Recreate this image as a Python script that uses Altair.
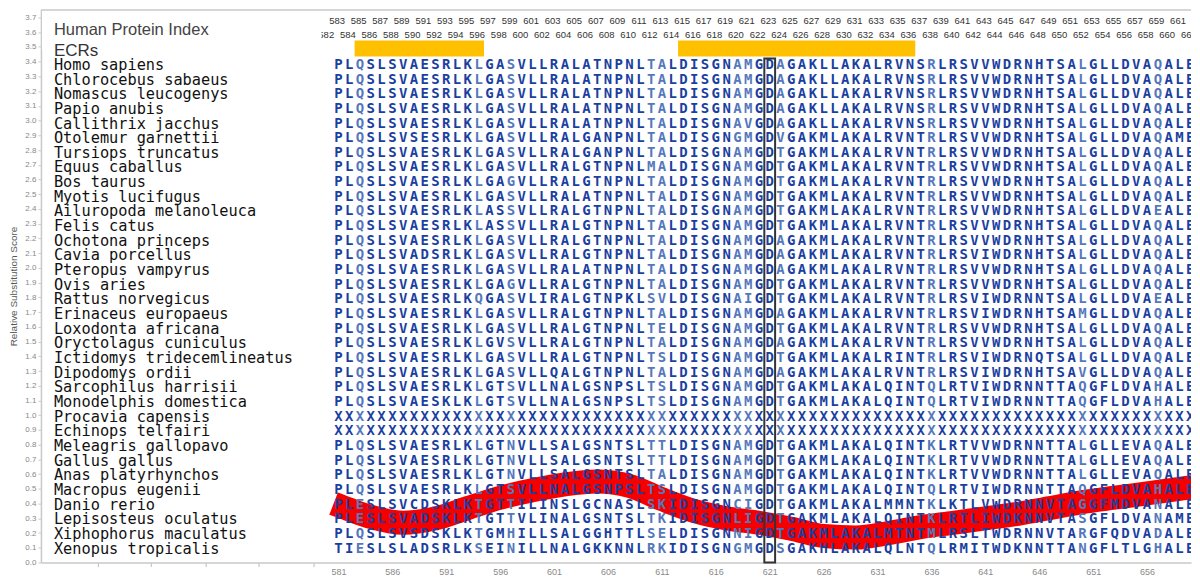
import altair as alt
import pandas as pd

# ---------------- data ----------------
species = [
    "Homo sapiens", "Chlorocebus sabaeus", "Nomascus leucogenys", "Papio anubis",
    "Callithrix jacchus", "Otolemur garnettii", "Tursiops truncatus", "Equus caballus",
    "Bos taurus", "Myotis lucifugus", "Ailuropoda melanoleuca", "Felis catus",
    "Ochotona princeps", "Cavia porcellus", "Pteropus vampyrus", "Ovis aries",
    "Rattus norvegicus", "Erinaceus europaeus", "Loxodonta africana", "Oryctolagus cuniculus",
    "Ictidomys tridecemlineatus", "Dipodomys ordii", "Sarcophilus harrisii", "Monodelphis domestica",
    "Procavia capensis", "Echinops telfairi", "Meleagris gallopavo", "Gallus gallus",
    "Anas platyrhynchos", "Macropus eugenii", "Danio rerio", "Lepisosteus oculatus",
    "Xiphophorus maculatus", "Xenopus tropicalis",
]

sequences = [
    "PLQSLSVAESRLKLGASVLLRALATNPNLTALDISGNAMGDAGAKLLAKALRVNSRLRSVVWDRNHTSALGLLDVAQALE",
    "PLQSLSVAESRLKLGASVLLRALATNPNLTALDISGNAMGDAGAKLLAKALRVNSRLRSVVWDRNHTSALGLLDVAQALE",
    "PLQSLSVAESRLKLGASVLLRALATNPNLTALDISGNAMGDAGAKLLAKALRVNSRLRSVVWDRNHTSALGLLDVAQALE",
    "PLQSLSVAESRLKLGASVLLRALATNPNLTALDISGNAMGDAGAKLLAKALRVNSRLRSVVWDRNHTSALGLLDVAQALE",
    "PLQSLSVAESRLKLGASVLLRALATNPNLTALDISGNAVGDAGAKLLAKALRVNSRLRSVVWDRNHTSALGLLDVAQALE",
    "PLQSLSVSESRLKLGASVLLRALGANPNLTALDISGNGMGDVGAKMLAKALRVNTRLRSVVWDRNHTSALGLLDVAQAME",
    "PLQSLSVAESRLKLGASVLLRALGANPNLTALDISGNAMGDTGAKMLAKALRVNTRLRSVVWDRNHTSALGLLDVAQALE",
    "PLQSLSVAESRLKLGASVLLRALGTNPNLMALDISGNAMGDTGAKMLAKALRVNTRLRSVVWDRNHTSALGLLDVAQALE",
    "PLQSLSVAESRLKLGAGVLLRALGTNPNLTALDISGNAMGDTGAKMLAKALRVNTRLRSVVWDRNHTSALGLLDVAQALE",
    "PLQSLSVAESRLKLGASVLLRALATNPNLTALDISGNAMGDTGAKMLAKALRVNTRLRSVVWDRNHTSALGLLDVAQALE",
    "PLQSLSVAESRLKLASSVLLRALGTNPNLTALDISGNAMGDTGAKMLAKALRVNTRLRSVVWDRNHTSALGLLDVAEALE",
    "PLQSLSVAESRLKLASSVLLRALGTNPNLTALDISGNAMGDTGAKMLAKALRVNTRLRSVVWDRNHTSALGLLDVAQALE",
    "PLQSLSVAESRLKLGASVLLRALGTNPNLTALDISGNAMGDAGAKMLAKALRVNTRLRSVVWDRNHTSALGLLDVAQALE",
    "PLQSLSVADSRLKLGASVLLRALGTNPNLTALDISGNAMGDAGAKMLAKALRVNTRLRSVIWDRNHTSALGLLDVAQALE",
    "PLQSLSVAESRLKLGASVLLRALATNPNLTALDISGNAMGDAGAKMLAKALRVNTRLRSVVWDRNHTSALGLLDVAQALE",
    "PLQSLSVAESRLKLGAGVLLRALGTNPNLTALDISGNAMGDTGAKMLAKALRVNTRLRSVVWDRNHTSALGLLDVAQALE",
    "PLQSLSVAESRLKQGASVLIRALGTNPKLSVLDISGNAIGDTGAKMLAKALRVNTRLRSVIWDRNNTSALGLLDVAEALE",
    "PLQSLSVAESRLKLGASVLLRALGTNPNLTALDISGNAMGDAGAKMLAKALRVNTRLRSVIWDRNHTSAMGLLDVAQALE",
    "PLQSLSVAESRLKLGASVLLRALGTNPNLTELDISGNAMGDTGAKMLAKALRVNTRLRSVVWDRNHTSALGLLDVAQALE",
    "PLQSLSVAESRLKLGVSVLLRALGTNPNLTALDISGNAMGDAGAKMLAKALRVNTRLRSVVWDRNHTSALGLLDVAQALE",
    "PLQSLSVAESRLKLGASVLLRALGTNPNLTSLDISGNAMGDTGAKMLAKALRINTRLRSVIWDRNQTSALGLLDVAQALE",
    "PLQSLSVAESRLKLGASVLLQALGTNPNLTALDISGNAMGDAGAKMLAKALRVNTRLRSVIWDRNHTSAVGLLDVAQALE",
    "PLQSLSVAESRLKLGTSVLLNALGSNPSLTSLDISGNAMGDTGAKMLAKALQINTQLRTVIWDRNNTTAQGFLDVAHALE",
    "PLQSLSVAESKLKLGTSVLLNALGSNPSLTSLDISGNAMGDTGAKMLAKALQINTQLRTVIWDRNNTTAQGFLDVAHALE",
    "XXXXXXXXXXXXXXXXXXXXXXXXXXXXXXXXXXXXXXXXXXXXXXXXXXXXXXXXXXXXXXXXXXXXXXXXXXXXXXXX",
    "XXXXXXXXXXXXXXXXXXXXXXXXXXXXXXXXXXXXXXXXXXXXXXXXXXXXXXXXXXXXXXXXXXXXXXXXXXXXXXXX",
    "PLQSLSVAESRLKLGTNVLLSALGSNTSLTTLDISGNAMGDTGAKMLAKALQINTKLRTVVWDRNNTTALGLLEVAQALE",
    "PLQSLSVAESRLKLGTNVLLSALGSNTSLTTLDISGNAMGDTGAKMLAKALQINTKLRTVVWDRNNTTALGLLEVAQALE",
    "PLQSLSVAESRLKLGTNVLLSALGSNTSLTALDISGNAMGDTGAKMLAKALQINTKLRTVVWDRNNTTALGLLEVAQALE",
    "PLQSLSVAESRLKLGTSVLLNALGSNPSLTSLDISGNAMGDTGAKMLAKALQINTQLRTVIWDRNNTTAQGFLDVAHALE",
    "PLESLSVCDSKLKTGTTILINSLGCNASLSKIDISGNCIGDTGAKMLAKALMMNTKLKTLVWDRNNVTAGGFMDVANALE",
    "PLESLSVADSKLKTGTTVLINALGSNTSLTKIDISGNLIGDTGAKMLAKALQINTKLRTLIWDKNNVTASGFLDVANAME",
    "PLQSLSVSDSKLKTGMHILLSALGGHTTLSELDISGNNIGDTGAKMLAKALMTNTMLRSLTWDRNNVTARGFQDVADALE",
    "TIESLSLADSRLKSEINILLNALGKKNNLRKIDISGNGMGDSGAKHLAKALQLNTQLRMITWDKNNTTANGFLTLGHALE",
]

first_pos = 581
light_cols = [583, 594, 597, 610, 611, 618, 619, 622, 636, 650, 657]

ecr_start = [583, 613]
ecr_end = [594, 634]
highlight_pos = [621]

score_pos = [580.55, 582, 584, 587, 590, 593, 596, 599, 602, 605, 608, 611, 614, 617,
             620, 623, 626, 629, 632, 635, 638, 641, 644, 647, 650, 653, 656, 659, 662]
score_val = [0.40, 0.36, 0.31, 0.27, 0.30, 0.37, 0.44, 0.49, 0.53, 0.55, 0.52, 0.43, 0.35, 0.30,
             0.27, 0.23, 0.18, 0.17, 0.20, 0.24, 0.27, 0.30, 0.33, 0.37, 0.41, 0.44, 0.47, 0.50, 0.53]

header_nums = list(range(582, 663))
x_tick_labels = list(range(581, 657, 5))
left_ticks = [558.7, 563.6, 568.7, 573.6, 578.7]
y_ticks = [round(i / 10, 1) for i in range(0, 38)]

# ---------------- tables ----------------
rows = []
for sp, seq in zip(species, sequences):
    for i, ch in enumerate(seq):
        p = first_pos + i
        rows.append({"species": sp, "pos": p, "letter": ch,
                     "shade": "light" if p in light_cols else "dark"})
letters_df = pd.DataFrame(rows)
species_df = pd.DataFrame({"species": species})
ecr_df = pd.DataFrame({"start": ecr_start, "end": ecr_end})
box_df = pd.DataFrame({"pos": highlight_pos})
score_df = pd.DataFrame({"pos": score_pos, "score": score_val})
header_df = pd.DataFrame({"pos": header_nums})
one = pd.DataFrame({"a": [0]})

# ---------------- layout ----------------
W, H = 1152, 554
PX = 10.8
x_lo = 581 - 298 / PX
x_hi = x_lo + W / PX
xscale = alt.Scale(domain=[x_lo, x_hi], nice=False, zero=False)
xaxis = alt.Axis(
    values=left_ticks + x_tick_labels, title=None, grid=False,
    labelExpr="datum.value < 580 ? '' : datum.label",
    labelFontSize=9, labelColor="#888", labelFont="Liberation Sans", labelPadding=1,
    tickSize=4,
    tickColor={"condition": {"test": "datum.value < 580", "value": "#bbb"}, "value": "transparent"},
    domainColor="#c8c8c8", domainWidth=1.5,
)


def X(field):
    return alt.X(field, type="quantitative", scale=xscale, axis=xaxis)


rowscale = alt.Scale(domain=species, range=[55.5, 540], type="point", padding=0)

header_odd = alt.Chart(header_df).transform_filter("datum.pos % 2 == 1").mark_text(
    font="Liberation Sans", fontSize=9.5, color="#333", dx=-23, clip=True, baseline="middle"
).encode(x=X("pos"), y=alt.value(12), text=alt.Text("pos:Q"))

header_even = alt.Chart(header_df).transform_filter("datum.pos % 2 == 0").mark_text(
    font="Liberation Sans", fontSize=9.5, color="#333", dx=-23, clip=True, baseline="middle"
).encode(x=X("pos"), y=alt.value(26), text=alt.Text("pos:Q"))

mask = alt.Chart(one).mark_rect(color="white").encode(
    x=alt.value(1), x2=alt.value(281), y=alt.value(1), y2=alt.value(40))

top_rule = alt.Chart(one).mark_rule(color="#c8c8c8", strokeWidth=1.5).encode(
    x=alt.value(0), x2=alt.value(W), y=alt.value(0.5))

ecr = alt.Chart(ecr_df).transform_calculate(
    s="datum.start - 0.5", e="datum.end + 0.5"
).mark_rect(color="#FFC000").encode(
    x=X("s"), x2="e:Q", y=alt.value(31), y2=alt.value(47))

score_line = alt.Chart(score_df).mark_line(
    color="#F40000", strokeWidth=24, interpolate="monotone", clip=True, strokeCap="butt"
).encode(
    x=X("pos"),
    y=alt.Y("score:Q", scale=alt.Scale(domain=[0, 3.754], nice=False),
            axis=alt.Axis(values=y_ticks, format=".1f", title="Relative Substitution Score",
                          titleFontSize=10, titleColor="#555", titleFont="Liberation Sans",
                          titleFontWeight="normal", titlePadding=6,
                          labelFontSize=8, labelColor="#888", labelFont="Liberation Sans",
                          labelPadding=2, tickSize=3, tickColor="#ccc",
                          domainColor="#c8c8c8", domainWidth=1.5, grid=False)),
)

letters = alt.Chart(letters_df).mark_text(
    font="DejaVu Sans Mono", fontWeight="bold", fontSize=14, baseline="middle", clip=True
).encode(
    x=X("pos"),
    y=alt.Y("species:N", sort=species, scale=rowscale, axis=None),
    text="letter:N",
    color=alt.Color("shade:N", scale=alt.Scale(domain=["dark", "light"],
                                               range=["#1B3FA0", "#5578BC"]), legend=None),
)

box = alt.Chart(box_df).transform_calculate(
    s="datum.pos - 0.5", e="datum.pos + 0.5"
).mark_rect(fill=None, stroke="#333", strokeWidth=2).encode(
    x=X("s"), x2="e:Q", y=alt.value(49), y2=alt.value(H))

names = alt.Chart(species_df).mark_text(
    font="DejaVu Sans Mono", fontSize=15.3, align="left", baseline="middle", color="#111"
).encode(
    x=alt.value(13),
    y=alt.Y("species:N", sort=species, scale=rowscale, axis=None),
    text="species:N",
)

title1 = alt.Chart(one).mark_text(
    text="Human Protein Index", font="Liberation Sans", fontSize=16.5, color="#444",
    align="left", baseline="middle").encode(x=alt.value(13), y=alt.value(21))
title2 = alt.Chart(one).mark_text(
    text="ECRs", font="Liberation Sans", fontSize=17, color="#333",
    align="left", baseline="middle").encode(x=alt.value(13), y=alt.value(42))

chart = alt.layer(
    score_line, header_odd, header_even, mask, top_rule, ecr,
    letters, box, names, title1, title2,
).resolve_scale(y="independent").properties(
    width=W, height=H, padding=0
).configure_view(stroke=None)

chart.save("out.html", embed_options={"renderer": "svg", "actions": False})
